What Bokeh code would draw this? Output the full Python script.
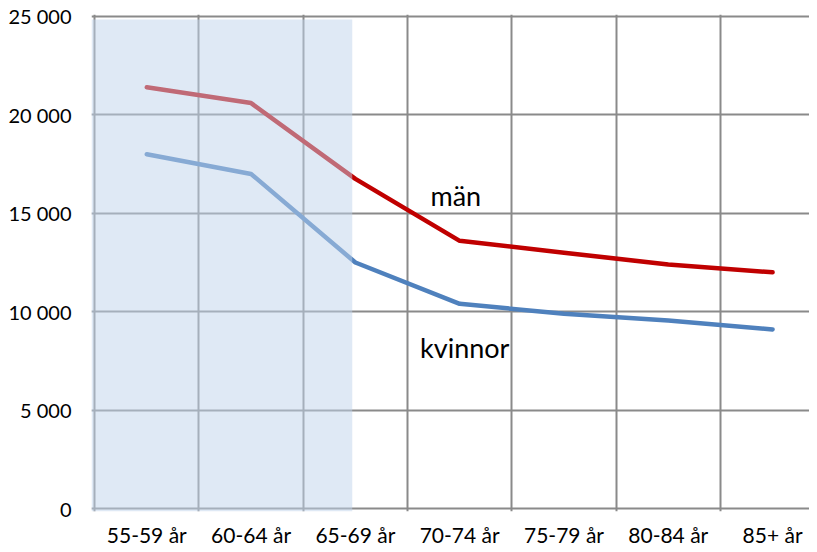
from bokeh.plotting import figure
from bokeh.models import Range1d, FixedTicker, BoxAnnotation, Label, ColumnDataSource
from bokeh.embed import file_html
from bokeh.resources import INLINE

categories = ["55-59 år", "60-64 år", "65-69 år", "70-74 år", "75-79 år", "80-84 år", "85+ år"]
man = [21400, 20600, 16750, 13600, 13000, 12400, 12000]
kvinnor = [18000, 17000, 12500, 10400, 9900, 9550, 9100]
y_ticks = [0, 5000, 10000, 15000, 20000, 25000]
y_tick_labels = ["0", "5 000", "10 000", "15 000", "20 000", "25 000"]

FONT = "Lato"

xs = [i + 0.5 for i in range(len(categories))]
src = ColumnDataSource(dict(x=xs, man=man, kvinnor=kvinnor))

p = figure(width=809, height=550, output_backend="svg", toolbar_location=None,
           x_range=Range1d(-0.03, 6.854), y_range=Range1d(-150, 25100),
           min_border_left=91, min_border_right=0, min_border_top=14, min_border_bottom=39)
p.outline_line_color = None
p.background_fill_color = "white"
p.border_fill_color = "white"

# axes
p.xaxis.ticker = FixedTicker(ticks=xs)
p.xaxis.major_label_overrides = {x: c for x, c in zip(xs, categories)}
p.yaxis.ticker = FixedTicker(ticks=y_ticks)
p.yaxis.major_label_overrides = {t: l for t, l in zip(y_ticks, y_tick_labels)}
for ax in (p.xaxis[0], p.yaxis[0]):
    ax.axis_line_color = None
    ax.major_tick_line_color = None
    ax.minor_tick_line_color = None
    ax.major_tick_out = 0
    ax.major_tick_in = 0
    ax.minor_tick_out = 0
    ax.minor_tick_in = 0
    ax.major_label_text_font = FONT
    ax.major_label_text_color = "black"
    ax.major_label_text_line_height = 1.0
p.xaxis.major_label_text_font_size = "21px"
p.yaxis.major_label_text_font_size = "20px"
p.yaxis.major_label_standoff = 20
p.xaxis.major_label_standoff = 10

# grid
p.xgrid.ticker = FixedTicker(ticks=list(range(len(categories) + 1)))
p.xgrid.grid_line_color = "#8A8A8A"
p.xgrid.grid_line_width = 2
p.ygrid.grid_line_color = "#8A8A8A"
p.ygrid.grid_line_width = 2

# lines
p.line("x", "man", source=src, line_color="#C00000", line_width=4.5,
       line_cap="round", line_join="round")
p.line("x", "kvinnor", source=src, line_color="#4F81BD", line_width=4.5,
       line_cap="round", line_join="round")

# shaded region over first categories
p.add_layout(BoxAnnotation(left=-0.03, right=2.47, bottom=-150, top=24840,
                           fill_color="#C0D4EC", fill_alpha=0.5, line_color=None))

p.add_layout(Label(x=3.22, y=15890, text="män", text_font=FONT, text_baseline="alphabetic",
                   text_font_size="27px", text_color="black"))
p.add_layout(Label(x=3.12, y=8170, text="kvinnor", text_font=FONT, text_baseline="alphabetic",
                   text_font_size="27px", text_color="black"))

open("out.html", "w").write(file_html(p, INLINE))
